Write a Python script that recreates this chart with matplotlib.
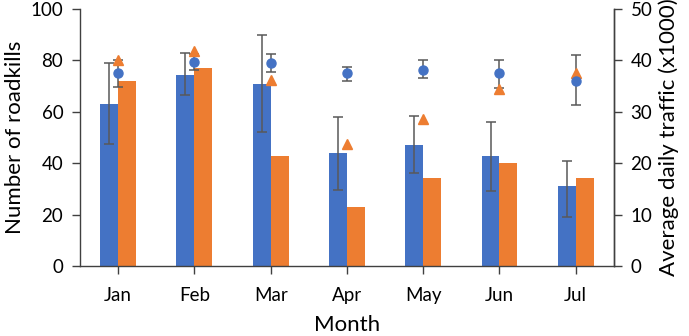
import numpy as np
import matplotlib
matplotlib.use("Agg")
import matplotlib.pyplot as plt

plt.rcParams['font.family'] = ['Lato', 'DejaVu Sans']

months = ['Jan', 'Feb', 'Mar', 'Apr', 'May', 'Jun', 'Jul']

# roadkills (left axis)
kills_a = [62.9, 74.5, 71.0, 44.2, 47.3, 42.8, 31.1]
kills_a_hi = [78.9, 83.1, 90.1, 58.1, 58.3, 56.2, 41.0]
kills_a_lo = [47.7, 66.7, 52.0, 29.8, 36.3, 29.3, 19.1]
kills_b = [72.0, 77.1, 42.8, 22.9, 34.1, 40.1, 34.1]

# traffic (right axis, x1000)
traffic_a = [37.5, 39.7, 39.5, 37.5, 38.2, 37.5, 36.1]
traffic_a_hi = [40.0, 41.2, 41.3, 38.8, 40.0, 40.0, 41.0]
traffic_a_lo = [34.9, 38.2, 37.7, 36.0, 36.5, 34.6, 31.4]
traffic_b = [40.1, 41.9, 36.3, 23.7, 28.7, 34.5, 37.5]

blue = '#4472C4'
orange = '#ED7D31'
grey = '#595959'

x = np.arange(len(months))
w = 0.235

fig = plt.figure(figsize=(6.89, 3.36), dpi=100)
ax = fig.add_axes([0.116, 0.208, 0.775, 0.765])
ax2 = ax.twinx()

ka = np.array(kills_a)
ax.bar(x - w / 2, ka, w, color=blue, zorder=2)
ax.bar(x + w / 2, kills_b, w, color=orange, zorder=2)
ax.errorbar(x - w / 2, ka,
            yerr=[ka - np.array(kills_a_lo), np.array(kills_a_hi) - ka],
            fmt='none', ecolor=grey, elinewidth=1.1, capsize=3.5, capthick=1.1, zorder=3)

ta = np.array(traffic_a)
ax2.errorbar(x, ta,
             yerr=[ta - np.array(traffic_a_lo), np.array(traffic_a_hi) - ta],
             fmt='none', ecolor=grey, elinewidth=1.1, capsize=3.5, capthick=1.1, zorder=3)
ax2.plot(x, traffic_b, '^', color=orange, markersize=6.5, linestyle='none', zorder=4)
ax2.plot(x, ta, 'o', color=blue, markersize=6.5, linestyle='none', zorder=5)

ax.set_xlim(-0.5, len(months) - 0.5)
ax.set_ylim(0, 100)
ax2.set_ylim(0, 50)
ax.set_yticks(range(0, 101, 20))
ax2.set_yticks(range(0, 51, 10))
ax.set_xticks(x)
ax.set_xticklabels(months)

for a in (ax, ax2):
    a.spines['top'].set_visible(False)
    for s in a.spines.values():
        s.set_color('#404040')
        s.set_linewidth(1.0)
    a.tick_params(labelsize=13.5, color='#404040', length=6, width=1, pad=6)
ax2.spines['left'].set_visible(False)
ax2.spines['bottom'].set_visible(False)
ax.tick_params(axis='x', pad=9)

ax.set_ylabel('Number of roadkills', fontsize=16, labelpad=4)
ax2.set_ylabel('Average daily traffic (x1000)', fontsize=16, labelpad=4)
ax.set_xlabel('Month', fontsize=16, labelpad=8)

fig.savefig('out.png', dpi=100)
